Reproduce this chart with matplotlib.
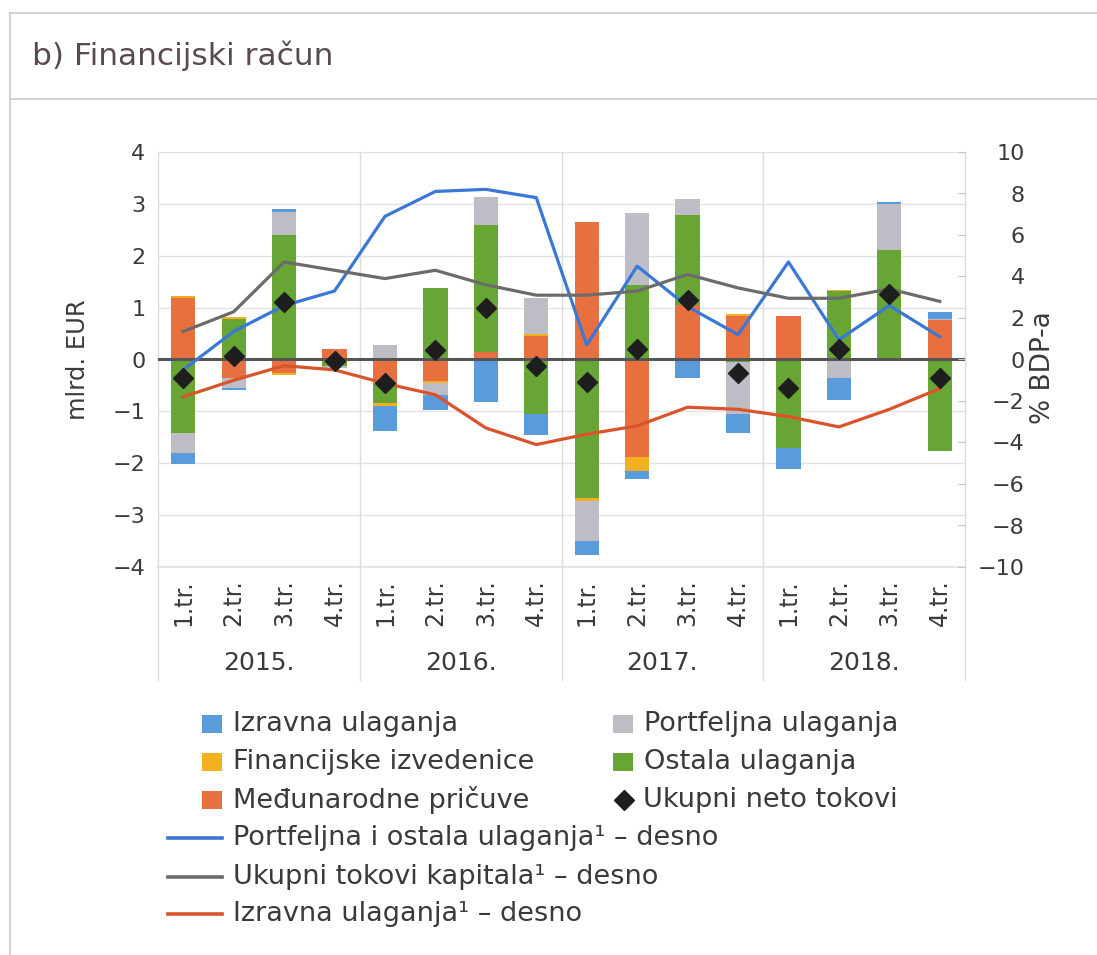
import matplotlib
matplotlib.use("Agg")
import matplotlib.pyplot as plt
import matplotlib.transforms as mtransforms
import numpy as np
from matplotlib.lines import Line2D
from matplotlib.patches import Rectangle

# --- podaci očitani s grafikona -------------------------------------------
quarters = ["1.tr.", "2.tr.", "3.tr.", "4.tr."] * 4
years = ["2015.", "2016.", "2017.", "2018."]

# mlrd. EUR (lijeva os)
izravna = [-0.22, -0.04, 0.06, 0.00, -0.48, -0.29, -0.82, -0.39,
           -0.26, -0.16, -0.36, -0.36, -0.42, -0.42, 0.04, 0.14]
portfeljna = [-0.38, -0.18, 0.45, -0.04, 0.28, -0.22, 0.54, 0.68,
              -0.77, 1.39, 0.32, -1.02, 0.00, -0.36, 0.89, 0.02]
izvedenice = [0.04, 0.02, -0.04, 0.00, -0.07, -0.05, 0.00, 0.04,
              -0.06, -0.28, 0.00, 0.03, 0.00, 0.02, 0.00, 0.00]
ostala = [-1.42, 0.79, 2.40, -0.12, -0.35, 1.38, 2.45, -1.06,
          -2.67, 1.44, 1.73, -0.04, -1.70, 1.32, 2.11, -1.77]
pricuve = [1.18, -0.36, -0.26, 0.20, -0.48, -0.41, 0.14, 0.46,
           2.65, -1.87, 1.05, 0.84, 0.83, 0.00, 0.00, 0.76]
ukupno = [-0.36, 0.06, 1.10, -0.02, -0.46, 0.19, 0.99, -0.13,
          -0.44, 0.20, 1.15, -0.26, -0.55, 0.20, 1.26, -0.36]

# % BDP-a (desna os)
portf_ostala_bdp = [-0.5, 1.35, 2.6, 3.3, 6.9, 8.1, 8.2, 7.8,
                    0.7, 4.5, 2.55, 1.2, 4.7, 0.95, 2.6, 1.1]
ukupni_tokovi_bdp = [1.35, 2.3, 4.7, 4.3, 3.9, 4.3, 3.6, 3.1,
                     3.1, 3.3, 4.1, 3.45, 2.95, 2.95, 3.4, 2.8]
izravna_bdp = [-1.8, -1.0, -0.3, -0.5, -1.15, -1.7, -3.3, -4.1,
               -3.6, -3.2, -2.3, -2.4, -2.75, -3.25, -2.4, -1.4]

C_BLUE, C_GRAY, C_YELLOW = "#5a9bdc", "#bdbdc6", "#f3b120"
C_GREEN, C_ORANGE = "#67a534", "#e8703f"
L_BLUE, L_GRAY, L_ORANGE = "#3a78d6", "#6b6b6b", "#d9542b"
TXT = "#3a3a3a"
GRID = "#e2e2e2"

W, H = 1097, 955


def fx(px):
    return px / W


def fy(py):
    return 1 - py / H


fig = plt.figure(figsize=(W / 100, H / 100), dpi=100)
ax = fig.add_axes([fx(158), fy(567), 807 / W, 415 / H])
ax2 = ax.twinx()

x = np.arange(len(quarters))

# stupci: pozitivni i negativni dio slažu se zasebno
stack = [(pricuve, C_ORANGE), (ostala, C_GREEN), (izvedenice, C_YELLOW),
         (portfeljna, C_GRAY), (izravna, C_BLUE)]
pos = np.zeros(len(x))
neg = np.zeros(len(x))
for vals, col in stack:
    v = np.asarray(vals, dtype=float)
    bottom = np.where(v >= 0, pos, neg)
    ax.bar(x, v, width=0.48, bottom=bottom, color=col, linewidth=0, zorder=2)
    pos += np.clip(v, 0, None)
    neg += np.clip(v, None, 0)

ax.axhline(0, color="#555555", lw=2.2, zorder=3)

ax.set_xlim(-0.5, len(x) - 0.5)
ax.set_ylim(-4, 4)
ax.set_yticks(range(-4, 5))
ax.yaxis.grid(True, color=GRID, lw=1)
ax.set_axisbelow(True)
# donji rub (-4) inače odreže clip
ax.axhline(-4, color=GRID, lw=1.2, clip_on=False, zorder=1)
for s in ax.spines.values():
    s.set_visible(False)
for s in ax2.spines.values():
    s.set_visible(False)

ax.set_xticks(x)
ax.set_xticklabels(quarters, rotation=90, fontsize=17, color=TXT)
ax.tick_params(axis="x", length=0, pad=9)
ax.tick_params(axis="y", length=0, pad=9, labelsize=16, labelcolor=TXT)

# linije na desnoj osi
ax2.plot(x, portf_ostala_bdp, color=L_BLUE, lw=2.3, zorder=3)
ax2.plot(x, ukupni_tokovi_bdp, color=L_GRAY, lw=2.3, zorder=3)
ax2.plot(x, izravna_bdp, color=L_ORANGE, lw=2.3, zorder=3)
# dijamanti iznad linija, ali u mjerilu lijeve osi
ax2.plot(x, ukupno, transform=ax.transData, ls="none", marker="D",
         ms=10, color="#1e1e1e", zorder=4)
ax2.set_ylim(-10, 10)
ax2.set_yticks(range(-10, 11, 2))
ax2.tick_params(axis="y", direction="in", length=5, color="#c4c4c4",
                pad=43, labelsize=16, labelcolor=TXT)
plt.setp(ax2.get_yticklabels(), ha="right")

ax.set_ylabel("mlrd. EUR", fontsize=17.5, color=TXT)
ax.yaxis.set_label_coords(-0.084, 0.5)
ax2.set_ylabel("% BDP-a", fontsize=19, color=TXT)
ax2.yaxis.set_label_coords(1.08, 0.48)

# razdjelnici godina i nazivi godina
trans = mtransforms.blended_transform_factory(ax.transData, ax.transAxes)
for b in np.arange(-0.5, len(x), 4):
    ax.plot([b, b], [-0.272, 1], transform=trans, clip_on=False,
            color="#dcdcdc", lw=1, zorder=1)
for i, yr in enumerate(years):
    ax.text(4 * i + 1.5, -0.231, yr, transform=trans, ha="center",
            va="center", fontsize=18, color=TXT)

# okvir i naslov
frame = "#c9c9d9"
fig.add_artist(Line2D([fx(10), 1], [fy(13), fy(13)], color=frame, lw=1.2))
fig.add_artist(Line2D([fx(10), 1], [fy(99), fy(99)], color=frame, lw=1.2))
fig.add_artist(Line2D([fx(10), fx(10)], [fy(13), 0], color=frame, lw=1.2))
fig.text(fx(32), fy(56), "b) Financijski račun", fontsize=22.5,
         color="#5a4a50", va="center")

# legenda
leg_size = 19.5
patch_rows = [
    (202, 724, C_BLUE, "Izravna ulaganja"),
    (613, 724, C_GRAY, "Portfeljna ulaganja"),
    (202, 762, C_YELLOW, "Financijske izvedenice"),
    (613, 762, C_GREEN, "Ostala ulaganja"),
    (202, 800, C_ORANGE, "Međunarodne pričuve"),
]
for px, py, col, lab in patch_rows:
    fig.add_artist(Rectangle((fx(px), fy(py + 9)), 20 / W, 18 / H,
                             color=col, lw=0))
    fig.text(fx(px + 31), fy(py), lab, fontsize=leg_size, color=TXT,
             va="center")
fig.add_artist(Line2D([fx(624)], [fy(800)], marker="D", ms=10,
                      color="#1e1e1e", ls="none"))
fig.text(fx(643), fy(800), "Ukupni neto tokovi", fontsize=leg_size,
         color=TXT, va="center")

line_rows = [
    (838, L_BLUE, "Portfeljna i ostala ulaganja¹ – desno"),
    (877, L_GRAY, "Ukupni tokovi kapitala¹ – desno"),
    (914, L_ORANGE, "Izravna ulaganja¹ – desno"),
]
for py, col, lab in line_rows:
    fig.add_artist(Line2D([fx(168), fx(222)], [fy(py), fy(py)],
                          color=col, lw=2.6))
    fig.text(fx(233), fy(py), lab, fontsize=leg_size, color=TXT,
             va="center")

fig.savefig("out.png", dpi=100)
